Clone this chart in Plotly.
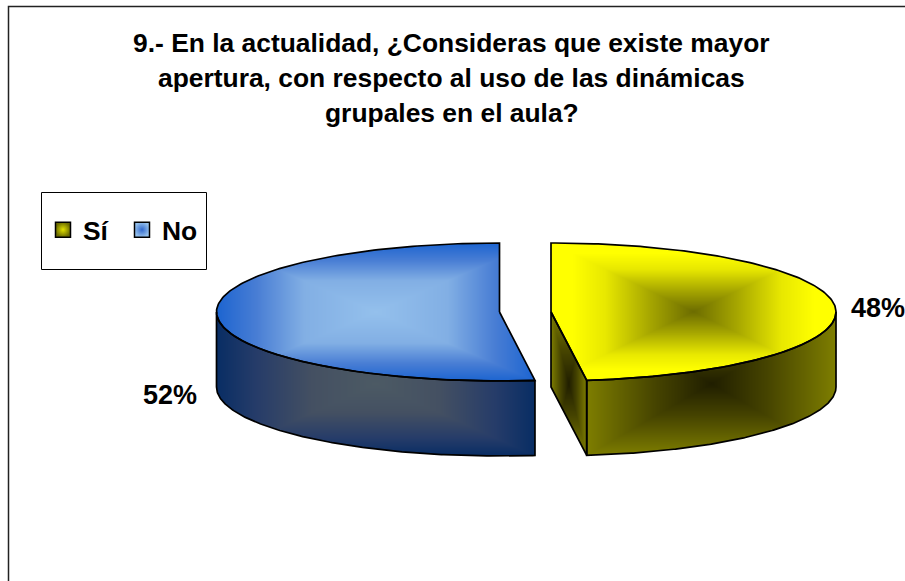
import numpy as np
import plotly.graph_objects as go

categories = ["Sí", "No"]
values = [48, 52]
labels = ["48%", "52%"]
title_lines = [
    "9.- En la actualidad, ¿Consideras que existe mayor",
    "apertura, con respecto al uso de las dinámicas",
    "grupales en el aula?",
]

W, H = 905, 581
FONT = "Liberation Sans"
RX = {"Sí": 285, "No": 283}
RY, DEPTH = 69, 75
CY = 312
CX = {"Sí": 551, "No": 499.5}
split = 2 * np.pi * values[0] / sum(values)

YEL_TOP = [[0, "rgb(108,108,0)"], [0.3, "rgb(165,165,0)"], [0.62, "rgb(232,232,0)"], [0.85, "rgb(255,255,0)"], [1, "rgb(255,255,0)"]]
YEL_SIDE = [[0, "rgb(32,30,0)"], [0.45, "rgb(70,68,0)"], [1, "rgb(126,126,0)"]]
BLU_TOP = [[0, "rgb(148,192,236)"], [0.45, "rgb(130,175,228)"], [0.75, "rgb(72,125,212)"], [1, "rgb(28,100,208)"]]
BLU_SIDE = [[0, "rgb(76,90,100)"], [0.4, "rgb(68,80,98)"], [0.75, "rgb(38,60,105)"], [1, "rgb(8,45,100)"]]

fig = go.Figure()
xx, yy = np.meshgrid(np.arange(0.5, W), np.arange(0.5, H))


def arc(cx, rx, a0, a1, dy=0, n=200):
    t = np.linspace(a0, a1, n)
    return cx + rx * np.sin(t), CY + dy - RY * np.cos(t)


def inside(px, py):
    """Even-odd point-in-polygon test over the pixel grid."""
    mask = np.zeros_like(xx, dtype=bool)
    j = len(px) - 1
    for i in range(len(px)):
        cond = (py[i] > yy) != (py[j] > yy)
        with np.errstate(divide="ignore", invalid="ignore"):
            xint = (px[j] - px[i]) * (yy - py[i]) / (py[j] - py[i]) + px[i]
        mask ^= cond & (xx < xint)
        j = i
    return mask


def face(px, py, scale):
    px, py = np.asarray(px, float), np.asarray(py, float)
    x0, x1, y0, y1 = px.min(), px.max(), py.min(), py.max()
    t = np.maximum(np.abs(xx - (x0 + x1) / 2) / ((x1 - x0) / 2),
                   np.abs(yy - (y0 + y1) / 2) / ((y1 - y0) / 2))
    t = np.clip(t, 0, 1)
    t[~inside(px, py)] = np.nan
    r0, r1 = int(y0) - 1, int(y1) + 2
    c0, c1 = int(x0) - 1, int(x1) + 2
    fig.add_trace(go.Heatmap(
        x=xx[0, c0:c1], y=yy[r0:r1, 0], z=np.round(t[r0:r1, c0:c1], 3),
        zmin=0, zmax=1, colorscale=scale, showscale=False, hoverinfo="skip", showlegend=False))
    fig.add_trace(go.Scatter(
        x=np.r_[px, px[0]], y=np.r_[py, py[0]], mode="lines", hoverinfo="skip",
        line=dict(color="black", width=1.7), showlegend=False))


def side(cx, rx, a0, a1, scale):
    ax, ay = arc(cx, rx, a0, a1)
    bx, by = arc(cx, rx, a1, a0, DEPTH)
    face(np.r_[ax, bx], np.r_[ay, by], scale)


def top(cx, rx, a0, a1, scale):
    ax, ay = arc(cx, rx, a0, a1)
    face(np.r_[cx, ax], np.r_[CY, ay], scale)


# "No" slice (starts where "Sí" ends and runs round to 12 o'clock)
cx, rx = CX["No"], RX["No"]
side(cx, rx, split, 1.5 * np.pi, BLU_SIDE)
top(cx, rx, split, 2 * np.pi, BLU_TOP)

# "Sí" slice
cx, rx = CX["Sí"], RX["Sí"]
ex, ey = cx + rx * np.sin(split), CY - RY * np.cos(split)
face([cx, ex, ex, cx], [CY, ey, ey + DEPTH, CY + DEPTH], YEL_SIDE)
side(cx, rx, np.pi / 2, split, YEL_SIDE)
top(cx, rx, 0, split, YEL_TOP)

# Legend entries
for name, col, grad in [("Sí", "rgb(225,225,0)", "rgb(108,108,0)"), ("No", "rgb(50,105,205)", "rgb(148,192,236)")]:
    fig.add_trace(go.Scatter(
        x=[None], y=[None], mode="markers", name=name, hoverinfo="skip",
        marker=dict(symbol="square", size=15, color=grad,
                    gradient=dict(type="radial", color=col),
                    line=dict(color="black", width=1.5))))

bold = dict(family=FONT, size=26.4, color="black", weight="bold")
big = dict(bold, size=27)
anns = [dict(x=451.5, y=y, text=t, showarrow=False, xref="x", yref="y", font=bold)
        for t, y in zip(title_lines, [43, 78, 113])]
anns += [
    dict(x=877.5, y=308, text=labels[0], showarrow=False, font=big),
    dict(x=169.5, y=395, text=labels[1], showarrow=False, font=big),
]

fig.update_layout(
    width=W, height=H, margin=dict(l=0, r=0, t=0, b=0),
    paper_bgcolor="white", plot_bgcolor="white",
    xaxis=dict(range=[0, W], visible=False, fixedrange=True),
    yaxis=dict(range=[H, 0], visible=False, fixedrange=True),
    annotations=anns,
    legend=dict(orientation="h", x=43 / W, y=1 - 230 / H, xanchor="left", yanchor="middle",
                borderwidth=0, bgcolor="rgba(0,0,0,0)",
                font=bold, entrywidth=34, entrywidthmode="pixels",
                itemsizing="trace", itemclick=False, itemdoubleclick=False),
    shapes=[
        dict(type="rect", xref="x", yref="y", x0=8.5, x1=1000, y0=6.5, y1=1000,
             line=dict(color="#222", width=1.5), layer="below"),
        dict(type="rect", xref="x", yref="y", x0=41.5, x1=206.5, y0=192.5, y1=269.5,
             line=dict(color="black", width=1), layer="below"),
    ],
    showlegend=True,
)
fig.write_html("out.html", config={"displayModeBar": False},
               post_script="document.body.style.margin='0';document.documentElement.style.overflow='hidden';")
